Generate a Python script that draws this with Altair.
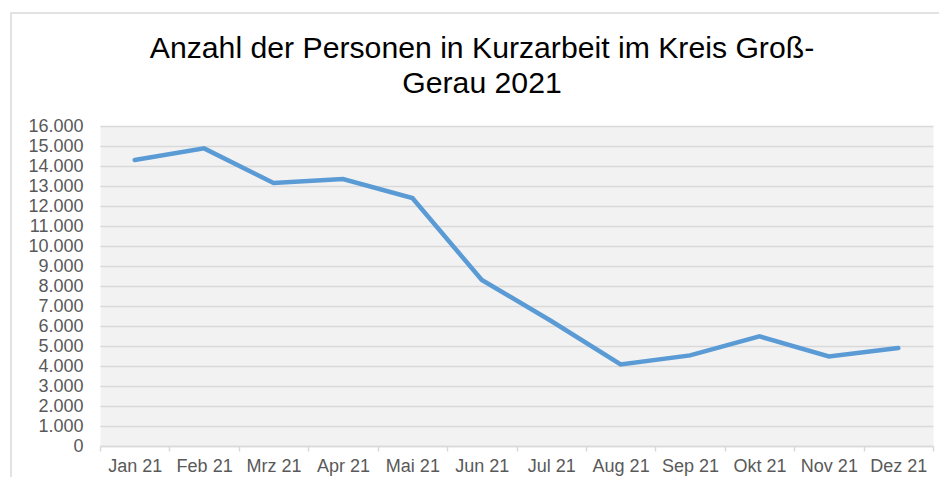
import altair as alt
import pandas as pd

months = ["Jan 21", "Feb 21", "Mrz 21", "Apr 21", "Mai 21", "Jun 21",
          "Jul 21", "Aug 21", "Sep 21", "Okt 21", "Nov 21", "Dez 21"]
values = [14300, 14880, 13150, 13350, 12400, 8300,
          6250, 4080, 4530, 5480, 4480, 4900]
y_ticks = list(range(0, 16001, 1000))
title_line1 = "Anzahl der Personen in Kurzarbeit im Kreis Groß-"
title_line2 = "Gerau 2021"

df = pd.DataFrame({"Monat": months, "Personen": values})
FONT = "Liberation Sans"

x_enc = alt.X(
    "Monat:N", sort=months, title=None,
    scale=alt.Scale(paddingInner=0, paddingOuter=0),
    axis=alt.Axis(labelAngle=0, tickBand="extent", ticks=True, tickSize=5,
                  tickColor="#D9D9D9", tickWidth=1.5, domainColor="#D9D9D9",
                  domainWidth=1.5, labelFont=FONT, labelFontSize=18,
                  labelColor="#595959", labelPadding=6, grid=False),
)
y_enc = alt.Y(
    "Personen:Q", title=None,
    scale=alt.Scale(domain=[0, 16000]),
    axis=alt.Axis(values=y_ticks,
                  labelExpr="replace(format(datum.value, ','), ',', '.')",
                  grid=True, gridColor="#D9D9D9", gridWidth=1.5,
                  domain=False, ticks=False, labelPadding=17,
                  labelFont=FONT, labelFontSize=18, labelColor="#595959"),
)

one = pd.DataFrame({"a": [0]})

border = alt.Chart(one).mark_rect(
    fill="transparent", stroke="#D9D9D9", strokeWidth=1.5
).encode(x=alt.value(-89), x2=alt.value(900), y=alt.value(-113), y2=alt.value(400))

t1 = alt.Chart(one).mark_text(
    font=FONT, fontSize=30.2, color="#000000", align="center", baseline="alphabetic"
).encode(x=alt.value(382), y=alt.value(-68), text=alt.value(title_line1))

t2 = alt.Chart(one).mark_text(
    font=FONT, fontSize=30.2, color="#000000", align="center", baseline="alphabetic"
).encode(x=alt.value(382), y=alt.value(-33), text=alt.value(title_line2))

line = alt.Chart(df).mark_line(color="#5B9BD5", strokeWidth=4.5, strokeCap="round").encode(
    x=x_enc, y=y_enc
)

chart = alt.layer(border, t1, t2, line).properties(
    width=833, height=320,
    padding={"left": 92, "top": 118, "right": 6, "bottom": 31},
    autosize="none",
).configure_view(fill="#F2F2F2", stroke="transparent")

chart.save("out.html", embed_options={"renderer": "svg", "actions": False})
